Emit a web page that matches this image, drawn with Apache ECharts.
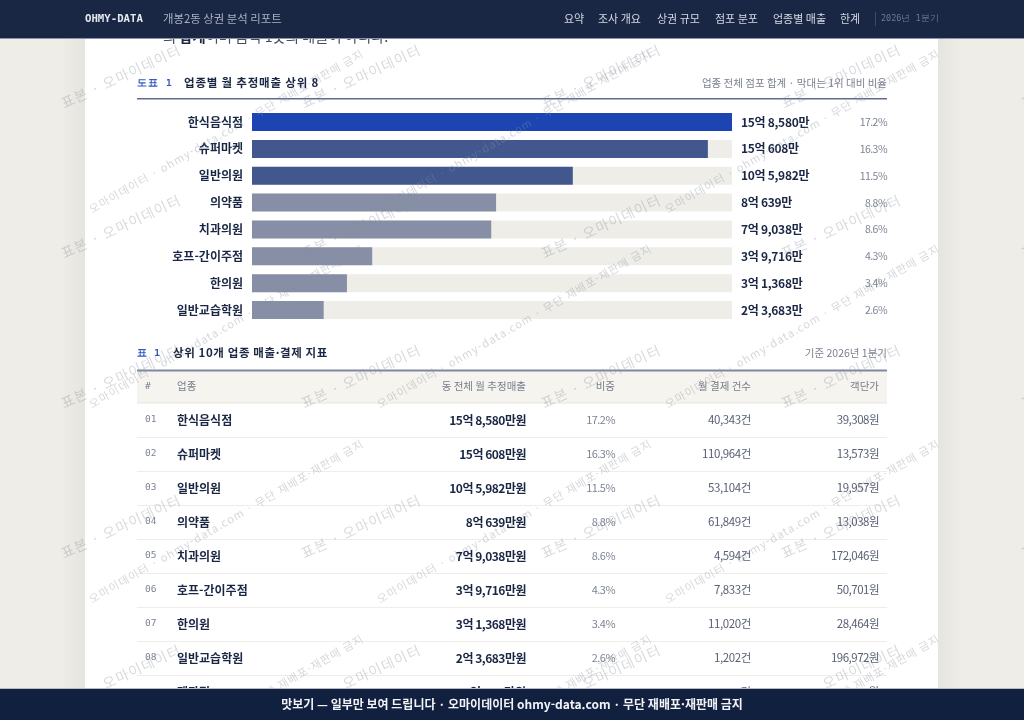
<!DOCTYPE html>
<html lang="ko">
<head>
<meta charset="utf-8">
<title>개봉2동 상권 분석 리포트</title>
<style>html,body{margin:0;padding:0;background:#eeede8}#chart{width:1024px;height:720px}</style>
<script src="https://cdn.jsdelivr.net/npm/echarts@6/dist/echarts.min.js"></script>
</head>
<body>
<div id="chart"></div>
<script>
const categories = ['한식음식점','슈퍼마켓','일반의원','의약품','치과의원','호프-간이주점','한의원','일반교습학원'];
const monthlySales = [158580,150608,105982,80639,79038,39716,31368,23683];
const salesLabels = ['15억 8,580만','15억 608만','10억 5,982만','8억 639만','7억 9,038만','3억 9,716만','3억 1,368만','2억 3,683만'];
const shareLabels = ['17.2%','16.3%','11.5%','8.8%','8.6%','4.3%','3.4%','2.6%'];
const barColors = ['#1c45b2','#42578e','#42578e','#868fa5','#868fa5','#868fa5','#868fa5','#868fa5'];

const navItems = ['요약','조사 개요','상권 규모','점포 분포','업종별 매출','한계'];
const tableHead = ['#','업종','동 전체 월 추정매출','비중','월 결제 건수','객단가'];
const tableRank = ['01','02','03','04','05','06','07','08'];
const tableAmount = ['15억 8,580만원','15억 608만원','10억 5,982만원','8억 639만원','7억 9,038만원','3억 9,716만원','3억 1,368만원','2억 3,683만원'];
const tablePayments = ['40,343건','110,964건','53,104건','61,849건','4,594건','7,833건','11,020건','1,202건'];
const tableUnitPrice = ['39,308원','13,573원','19,957원','13,038원','172,046원','50,701원','28,464원','196,972원'];

/* letter-spacing per string: ECharts text has no such option, so it is applied at draw time */
const WM_A = '표본 · 오마이데이터';
const WM_B = '오마이데이터 · ohmy-data.com · 무단 재배포·재판매 금지';
const tracking = new Map([
  [WM_A, '1.2px'], [WM_B, '1.1px'],
  ['도표 1', '1.1px'], ['표 1', '0.8px'],
  ['업종별 월 추정매출 상위 8', '0.8px'], ['상위 10개 업종 매출·결제 지표', '0.6px']
]);
salesLabels.forEach(s => tracking.set(s, '-0.3px'));
tableAmount.forEach(s => tracking.set(s, '-0.5px'));
shareLabels.forEach(s => tracking.set(s, '-0.55px'));
tablePayments.forEach(s => tracking.set(s, '-0.4px'));
tableUnitPrice.forEach(s => tracking.set(s, '-0.5px'));
const nativeFill = CanvasRenderingContext2D.prototype.fillText;
CanvasRenderingContext2D.prototype.fillText = function (t, x, y, m) {
  this.letterSpacing = tracking.get(t) || '0px';
  return m === undefined ? nativeFill.call(this, t, x, y) : nativeFill.call(this, t, x, y, m);
};

const SANS = '"Noto Sans CJK KR","Noto Sans",sans-serif';
const MONO = '"DejaVu Sans Mono",monospace';
const INK = '#1a2744';
const g = [];
const text = (x, y, s, o = {}) => g.push({
  type: 'text', x, y, z: o.z ?? 60, silent: true, rotation: o.rot || 0,
  style: { text: s, fill: o.fill || INK, font: `${o.weight || 'normal'} ${o.size || 12}px ${o.family || SANS}`,
    align: o.align || 'left', verticalAlign: 'middle', opacity: o.opacity ?? 1, rich: o.rich }
});
const rect = (x, y, w, h, fill, z, extra = {}) => g.push({ type: 'rect', x, y, z, silent: true, shape: { x: 0, y: 0, width: w, height: h }, style: { fill, ...extra } });

/* page ground */
rect(85, 0, 853, 720, '#ffffff', 0);
rect(0, 0, 85, 720, new echarts.graphic.LinearGradient(0, 0, 1, 0, [{ offset: 0, color: '#eeede8' }, { offset: .72, color: '#eeede8' }, { offset: 1, color: '#e5e4df' }]), 40);
rect(938, 0, 86, 720, new echarts.graphic.LinearGradient(0, 0, 1, 0, [{ offset: 0, color: '#e5e4df' }, { offset: .28, color: '#eeede8' }, { offset: 1, color: '#eeede8' }]), 40);

/* clipped intro line under the nav */
text(163, 36.5, '의 {b|합계}이며 음식 1곳의 매출이 아니다.', { size: 14.3, fill: '#444c60', rich: { b: { font: `bold 14.3px ${SANS}`, fill: INK } } });

/* figure head */
text(137, 83.5, '도표 1', { family: MONO, weight: 'bold', size: 9.5, fill: '#2f5ac4' });
text(184, 82.5, '업종별 월 추정매출 상위 8', { weight: 'bold', size: 11.5 });
text(887, 83, '업종 전체 점포 합계 · 막대는 1위 대비 비율', { size: 10.5, fill: '#7a8090', align: 'right' });
rect(137, 98, 750, 1.5, '#5f6c8a', 5);

/* table head */
text(137, 353.5, '표 1', { family: MONO, weight: 'bold', size: 9.5, fill: '#2f5ac4' });
text(173, 353, '상위 10개 업종 매출·결제 지표', { weight: 'bold', size: 11.5 });
text(887, 353, '기준 2026년 1분기', { size: 10.5, fill: '#7a8090', align: 'right' });
rect(137, 371, 750, 32, '#f5f4ef', 1);
rect(137, 369.5, 750, 2, '#7f88a0', 5);
rect(137, 402.5, 750, 1, '#e8e5dc', 5);
const colX = [145, 177, 526, 615, 751, 879];
tableHead.forEach((h, i) => text(colX[i], 386.5, h, { size: i === 0 ? 9.5 : 10.5, family: i === 0 ? MONO : SANS, fill: '#777d8c', align: i < 2 ? 'left' : 'right' }));
tableRank.forEach((r, i) => {
  const y = 420 + i * 34;
  text(colX[0], y, r, { family: MONO, size: 9.5, fill: '#7d8494' });
  text(colX[1], y, categories[i], { size: 12, weight: 600 });
  text(colX[2], y, tableAmount[i], { size: 12, weight: 'bold', align: 'right' });
  text(colX[3], y, shareLabels[i], { size: 11, fill: '#7d8494', align: 'right' });
  text(colX[4], y, tablePayments[i], { size: 11.5, fill: '#5a6175', align: 'right' });
  text(colX[5], y, tableUnitPrice[i], { size: 11.5, fill: '#5a6175', align: 'right' });
  rect(137, y + 17, 750, 1, '#efede8', 5);
});
/* ninth row: only the tops of its tallest glyphs show above the footer, so no digits are drawn */
text(colX[1], 692, '제과점', { size: 12, weight: 600 });
text(colX[2] - 45, 692, '억', { size: 12, weight: 'bold', align: 'right' });
text(colX[2], 692, '만원', { size: 12, weight: 'bold', align: 'right' });
text(colX[4], 692, '건', { size: 11.5, fill: '#5a6175', align: 'right' });
text(colX[5], 692, '원', { size: 11.5, fill: '#5a6175', align: 'right' });

/* watermarks */
for (let r = 0; r < 6; r++) for (let c = 0; c < 4; c++) {
  text(90 + c * 288, 15 + r * 195, WM_B,
    { size: 11, fill: '#8a8f9a', opacity: .36, rot: 30 * Math.PI / 180, z: 30 });
}
for (let r = 0; r < 5; r++) for (let c = 0; c < 5; c++) {
  text(62 + c * 240, 104 + r * 150, WM_A,
    { size: 14, fill: '#8a8f9a', opacity: .33, rot: 25 * Math.PI / 180, z: 50 });
}

/* nav */
rect(0, 0, 1024, 38, '#1a2744', 100);
rect(0, 38, 1024, 1, '#8a93a8', 100);
text(85, 19, 'OHMY-DATA', { family: MONO, weight: 'bold', size: 10.7, fill: '#e6e8ee', z: 101 });
text(163, 18.5, '개봉2동 상권 분석 리포트', { size: 11.4, fill: '#a9b0c0', z: 101 });
const navX = [564, 598, 657, 715, 773, 840];
navItems.forEach((s, i) => text(navX[i], 18.5, s, { size: 11, fill: '#d5d9e3', z: 101 }));
rect(875, 12, 1, 14, '#3d4a68', 101);
text(881, 19, '2026년 1분기', { family: MONO, size: 8.5, fill: '#6f7a92', z: 101 });

/* footer */
rect(0, 689, 1024, 31, '#122040', 100);
rect(0, 688, 1024, 1, '#b8bcc6', 100);
text(512, 704, '맛보기 — 일부만 보여 드립니다 · 오마이데이터 ohmy-data.com · 무단 재배포·재판매 금지',
  { size: 12, weight: 'bold', fill: '#f2f3f6', align: 'center', z: 101 });

const hiddenAxis = { type: 'category', inverse: true, axisLine: { show: false }, axisTick: { show: false } };
const chart = echarts.init(document.getElementById('chart'), null, { renderer: 'canvas' });
chart.setOption({
  animation: false,
  backgroundColor: '#eeede8',
  graphic: { elements: g },
  grid: { left: 252, top: 108.6, width: 480, height: 214.9, containLabel: false },
  xAxis: { type: 'value', min: 0, max: monthlySales[0], show: false },
  yAxis: [
    { ...hiddenAxis, data: categories, position: 'left',
      axisLabel: { margin: 9, fontFamily: SANS, fontSize: 12, fontWeight: 600, color: INK } },
    { ...hiddenAxis, data: salesLabels, position: 'right',
      axisLabel: { margin: 9, fontFamily: SANS, fontSize: 12, fontWeight: 'bold', color: INK, align: 'left' } },
    { ...hiddenAxis, data: shareLabels, position: 'right', offset: 155,
      axisLabel: { margin: 0, fontFamily: SANS, fontSize: 10.5, color: '#7d8494', align: 'right' } }
  ],
  series: [{
    type: 'bar', yAxisIndex: 0, data: monthlySales.map((v, i) => ({ value: v, itemStyle: { color: barColors[i] } })),
    barWidth: 18, showBackground: true, backgroundStyle: { color: '#eeede8' }, silent: true
  }]
});
</script>
</body>
</html>
